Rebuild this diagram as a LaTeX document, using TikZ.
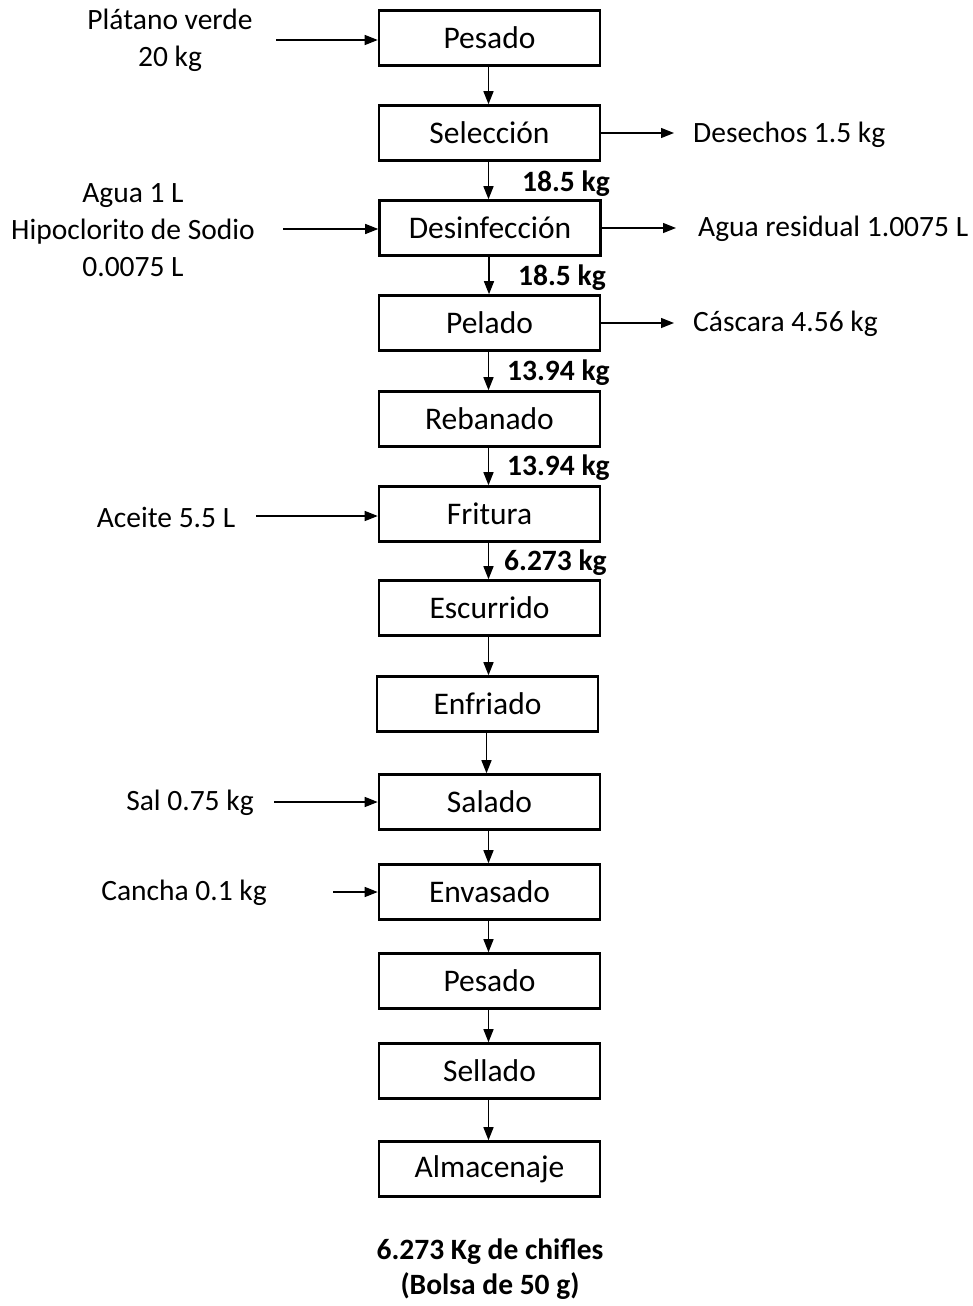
\documentclass[tikz,border=0pt]{standalone}
\usepackage{fontspec}
\setmainfont{Carlito}
\usetikzlibrary{arrows.meta}
\begin{document}
\begin{tikzpicture}[x=1pt,y=-1pt,
  proc/.style={draw, line width=2.6pt, minimum width=221pt, minimum height=55pt, inner sep=0pt, font=\fontsize{31.5}{36}\selectfont},
  lbl/.style={inner sep=0pt, font=\fontsize{29.5}{37}\selectfont, align=center},
  wt/.style={inner sep=0pt, anchor=west, font=\fontsize{29.5}{36}\selectfont\bfseries},
  flow/.style={line width=1.4pt, -{Triangle[length=13pt,width=10pt]}}]
\useasboundingbox (0,0) rectangle (973,1306);
\node[proc] (p1) at (489.5,38) {Pesado};
\node[proc] (sel) at (489.5,133) {Selección};
\node[proc] (des) at (490,228) {Desinfección};
\node[proc] (pel) at (489.5,323) {Pelado};
\node[proc] (reb) at (489.5,419) {Rebanado};
\node[proc] (fri) at (489.5,514) {Fritura};
\node[proc] (esc) at (489.5,608) {Escurrido};
\node[proc] (enf) at (487.5,704) {Enfriado};
\node[proc] (sal) at (489.5,802) {Salado};
\node[proc] (env) at (489.5,892) {Envasado};
\node[proc] (p2) at (489.5,981) {Pesado};
\node[proc] (sell) at (489.5,1071) {Sellado};
\node[proc] (alm) at (489.5,1169) {Almacenaje};

\foreach \a/\b in {p1/sel,sel/des,des/pel,pel/reb,reb/fri,fri/esc,esc/enf,enf/sal,sal/env,env/p2,p2/sell,sell/alm}
  \draw[flow] ([xshift=-1pt]\a.south) -- ([xshift=-1pt]\a.south |- \b.north);

% inputs
\node[lbl] (in1) at (170,40) {Plátano verde\\20 kg};
\coordinate (c1) at (276,40);
\draw[flow] (c1) -- (c1 -| p1.west);
\node[lbl] (in2) at (133,230) {Agua 1 L\\Hipoclorito de Sodio\\0.0075 L};
\coordinate (c2) at (283,229);
\draw[flow] (c2) -- (c2 -| des.west);
\node[lbl] (in3) at (166,517) {Aceite 5.5 L};
\coordinate (c3) at (256,516);
\draw[flow] (c3) -- (c3 -| fri.west);
\node[lbl] (in4) at (190,803) {Sal 0.75 kg};
\coordinate (c4) at (274,802);
\draw[flow] (c4) -- (c4 -| sal.west);
\node[lbl] (in5) at (184,893) {Cancha 0.1 kg};
\coordinate (c5) at (333,892);
\draw[flow] (c5) -- (c5 -| env.west);

% outputs
\node[lbl, anchor=west] (o1) at (693,135) {Desechos 1.5 kg};
\coordinate (d1) at (674,133);
\draw[flow] (sel.east) -- (d1);
\node[lbl, anchor=west] (o2) at (698,229) {Agua residual 1.0075 L};
\coordinate (d2) at (676,228);
\draw[flow] (des.east) -- (d2);
\node[lbl, anchor=west] (o3) at (693,324) {Cáscara 4.56 kg};
\coordinate (d3) at (674,323);
\draw[flow] (pel.east) -- (d3);

% weights
\node[wt] (w1) at (522,184) {18.5 kg};
\node[wt] (w2) at (518,278) {18.5 kg};
\node[wt] (w3) at (507,373) {13.94 kg};
\node[wt] (w4) at (507,468) {13.94 kg};
\node[wt] (w5) at (504,563) {6.273 kg};

\node[lbl, font=\fontsize{29.5}{35}\selectfont\bfseries] (fin) at (490,1269) {6.273 Kg de chifles\\(Bolsa de 50 g)};
\end{tikzpicture}
\end{document}
